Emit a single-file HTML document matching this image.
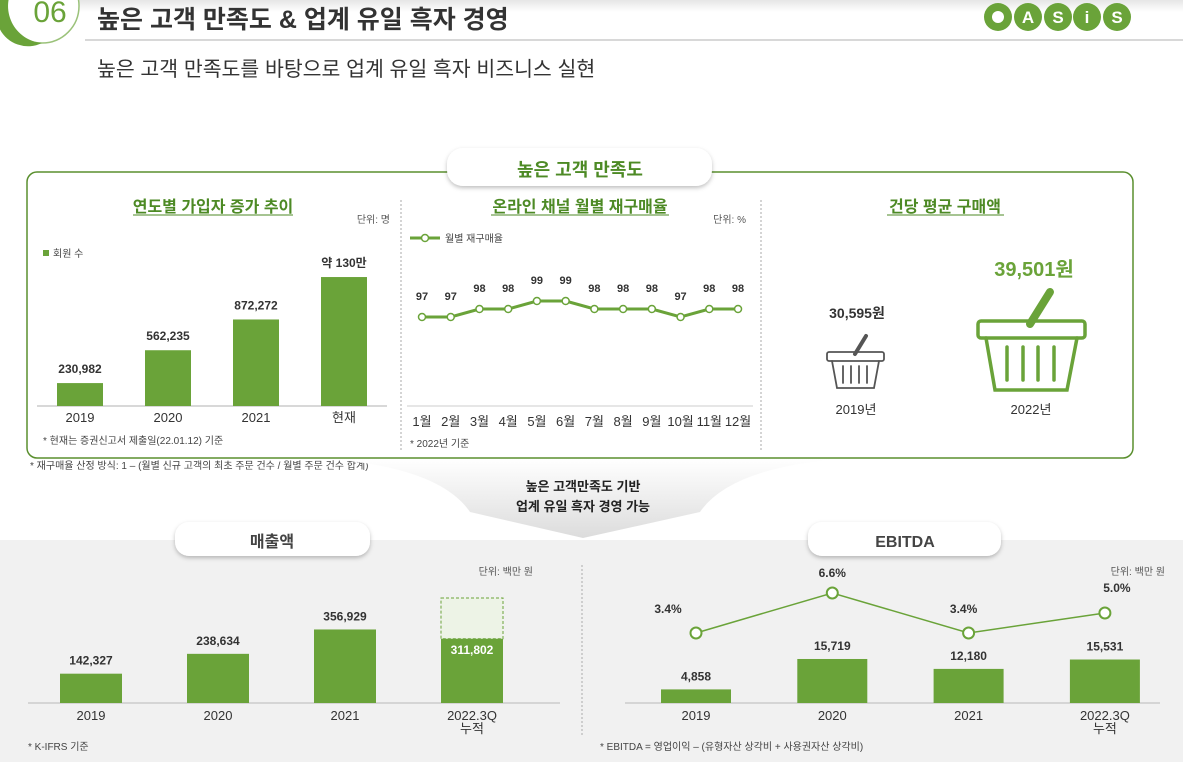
<!DOCTYPE html>
<html><head><meta charset="utf-8">
<style>
html,body{margin:0;padding:0;background:#fff;}
svg{display:block;font-family:"Liberation Sans","Noto Sans CJK KR",sans-serif;}
</style></head>
<body>
<svg id="s" width="1183" height="762" viewBox="0 0 1183 762" xmlns="http://www.w3.org/2000/svg">
<defs>
<linearGradient id="fg" x1="0" y1="0" x2="0" y2="1"><stop offset="0" stop-color="#ffffff"/><stop offset="1" stop-color="#dcdcdc"/></linearGradient>
<linearGradient id="hg" x1="0" y1="0" x2="0" y2="1"><stop offset="0" stop-color="#e6e6e6"/><stop offset="1" stop-color="#ffffff"/></linearGradient>
<filter id="sh" x="-10%" y="-30%" width="120%" height="170%"><feDropShadow dx="0" dy="2" stdDeviation="2" flood-color="#000" flood-opacity="0.25"/></filter>
</defs>
<rect x="0" y="0" width="1183" height="12" fill="url(#hg)"/>
<g>
<circle cx="42" cy="6" r="37" fill="#fff" stroke="#9bc27a" stroke-width="1.5"/>
<path d="M14,-14 A37,37 0 0 0 42,43 A30,30 0 0 1 14,-14Z" fill="#6aa339"/>
<text x="50" y="22" font-size="30" fill="#6aa339" text-anchor="middle">06</text>
</g>
<text x="97" y="28" font-size="25" font-weight="bold" fill="#333">높은 고객 만족도 &amp; 업계 유일 흑자 경영</text>
<line x1="85" y1="40" x2="1183" y2="40" stroke="#ccc" stroke-width="1.5"/>
<text x="97" y="76" font-size="20.5" fill="#333">높은 고객 만족도를 바탕으로 업계 유일 흑자 비즈니스 실현</text>
<g font-weight="bold" font-size="17" fill="#fff" text-anchor="middle">
<circle cx="998" cy="17" r="14" fill="#6aa339"/><circle cx="998" cy="17" r="6" fill="#fff"/>
<circle cx="1028" cy="17" r="14" fill="#6aa339"/><text x="1028" y="23">A</text>
<circle cx="1058" cy="17" r="14" fill="#6aa339"/><text x="1058" y="23">S</text>
<circle cx="1087" cy="17" r="14" fill="#6aa339"/><text x="1087" y="23">i</text>
<circle cx="1117" cy="17" r="14" fill="#6aa339"/><text x="1117" y="23">S</text>
</g>
<rect x="27" y="172" width="1106" height="286" rx="10" fill="#fff" stroke="#5a8f2e" stroke-width="1.5"/>
<g>
<rect x="447" y="148" width="265" height="38" rx="16" fill="#fff" filter="url(#sh)"/>
<text x="580" y="176" font-size="18" font-weight="bold" fill="#4d8a25" text-anchor="middle">높은 고객 만족도</text>
</g>
<line x1="401" y1="200" x2="401" y2="450" stroke="#aaa" stroke-dasharray="2,2"/>
<line x1="761" y1="200" x2="761" y2="450" stroke="#aaa" stroke-dasharray="2,2"/>
<g font-size="16" font-weight="bold" fill="#4d8a25" text-anchor="middle">
<text x="213" y="212">연도별 가입자 증가 추이</text>
<text x="580" y="212">온라인 채널 월별 재구매율</text>
<text x="945" y="212">건당 평균 구매액</text>
</g>
<line x1="133" y1="215" x2="293" y2="215" stroke="#4d8a25"/><line x1="491" y1="215" x2="669" y2="215" stroke="#4d8a25"/><line x1="887" y1="215" x2="1004" y2="215" stroke="#4d8a25"/>
<text x="390" y="223" font-size="10" fill="#555" text-anchor="end">단위: 명</text>
<text x="746" y="223" font-size="10" fill="#555" text-anchor="end">단위: %</text>
<rect x="43" y="250" width="6" height="6" fill="#6aa339"/>
<text x="53" y="257" font-size="10" fill="#444">회원 수</text>
<line x1="37" y1="406" x2="387" y2="406" stroke="#ccc" stroke-width="1.5"/>
<text x="43" y="444" font-size="10" fill="#444">* 현재는 증권신고서 제출일(22.01.12) 기준</text>
<g id="members"></g>
<line x1="410" y1="238" x2="440" y2="238" stroke="#6aa339" stroke-width="3"/><circle cx="425" cy="238" r="3.5" fill="#fff" stroke="#6aa339" stroke-width="1.5"/>
<text x="445" y="242" font-size="10" fill="#444">월별 재구매율</text>
<line x1="407" y1="406" x2="753" y2="406" stroke="#ddd" stroke-width="1.5"/>
<text x="410" y="447" font-size="10" fill="#444">* 2022년 기준</text>
<g id="repurchase"></g>
<text x="857" y="318" font-size="14" font-weight="bold" fill="#333" text-anchor="middle">30,595원</text>
<g fill="none" stroke="#555" stroke-width="1.8" stroke-linecap="round">
<rect x="827" y="352" width="57" height="9" rx="2"/><path d="M832,361 L837,388 L874,388 L879,361"/><line x1="855" y1="354" x2="866" y2="336" stroke-width="4"/><line x1="843" y1="366" x2="843" y2="383"/><line x1="851" y1="366" x2="851" y2="383"/><line x1="859" y1="366" x2="859" y2="383"/><line x1="867" y1="366" x2="867" y2="383"/>
</g>
<text x="856" y="414" font-size="13" fill="#333" text-anchor="middle">2019년</text>
<text x="1034" y="276" font-size="20" font-weight="bold" fill="#6aa339" text-anchor="middle">39,501원</text>
<g fill="none" stroke="#6aa339" stroke-width="3.5" stroke-linecap="round">
<rect x="978" y="321" width="107" height="17" rx="3"/><path d="M986,338 L995,390 L1067,390 L1077,338"/><line x1="1030" y1="324" x2="1050" y2="292" stroke-width="8"/><line x1="1007" y1="347" x2="1007" y2="380"/><line x1="1023" y1="347" x2="1023" y2="380"/><line x1="1038" y1="347" x2="1038" y2="380"/><line x1="1054" y1="347" x2="1054" y2="380"/>
</g>
<text x="1031" y="414" font-size="13" fill="#333" text-anchor="middle">2022년</text>
<text x="30" y="469" font-size="10" fill="#444">* 재구매율 산정 방식: 1 – (월별 신규 고객의 최초 주문 건수 / 월별 주문 건수 합계)</text>
<rect x="0" y="540" width="1183" height="222" fill="#f1f1f1"/>
<path d="M330,459 Q440,468 470,512 L583,538 L700,512 Q730,468 840,459 Z" fill="url(#fg)"/>
<text x="583" y="491" font-size="13" font-weight="bold" fill="#222" text-anchor="middle">높은 고객만족도 기반</text>
<text x="583" y="511" font-size="13" font-weight="bold" fill="#222" text-anchor="middle">업계 유일 흑자 경영 가능</text>
<g><rect x="175" y="522" width="195" height="34" rx="14" fill="#fff" filter="url(#sh)"/><text x="272" y="547" font-size="16" font-weight="bold" fill="#444" text-anchor="middle">매출액</text></g>
<g><rect x="808" y="522" width="193" height="34" rx="14" fill="#fff" filter="url(#sh)"/><text x="905" y="547" font-size="16" font-weight="bold" fill="#444" text-anchor="middle">EBITDA</text></g>
<line x1="582" y1="565" x2="582" y2="735" stroke="#aaa" stroke-dasharray="2,2"/>
<text x="533" y="575" font-size="10" fill="#555" text-anchor="end">단위: 백만 원</text>
<text x="1165" y="575" font-size="10" fill="#555" text-anchor="end">단위: 백만 원</text>
<line x1="28" y1="703" x2="560" y2="703" stroke="#ccc" stroke-width="1.5"/>
<line x1="625" y1="703" x2="1160" y2="703" stroke="#ccc" stroke-width="1.5"/>
<text x="28" y="750" font-size="10" fill="#444">* K-IFRS 기준</text>
<text x="600" y="750" font-size="10" fill="#444">* EBITDA = 영업이익 – (유형자산 상각비 + 사용권자산 상각비)</text>
<g id="revenue"></g>
<g id="ebitda"></g>
</svg>
<script>
const memberCats=["2019","2020","2021","현재"];
const memberVals=[230982,562235,872272,1300000];
const memberLabels=["230,982","562,235","872,272","약 130만"];
const months=["1월","2월","3월","4월","5월","6월","7월","8월","9월","10월","11월","12월"];
const repurchase=[97,97,98,98,99,99,98,98,98,97,98,98];
const revCats=["2019","2020","2021","2022.3Q"];
const revVals=[142327,238634,356929,311802];
const revProjected=[0,0,0,510000];
const ebitdaCats=["2019","2020","2021","2022.3Q"];
const ebitdaVals=[4858,15719,12180,15531];
const ebitdaMargin=[3.4,6.6,3.4,5.0];
const NS="http://www.w3.org/2000/svg";
function mk(p,t,a,txt){const e=document.createElementNS(NS,t);for(const k in a)e.setAttribute(k,a[k]);if(txt!=null)e.textContent=txt;p.appendChild(e);return e;}
const G="#6aa339";
function fmt(v){return v.toLocaleString("en-US");}
(function(){const g=document.getElementById("members");const y=v=>406-v*0.0000992;const x=i=>80+i*88;
memberVals.forEach((v,i)=>{const r=mk(g,"rect",{x:x(i)-23,y:y(v),width:46,height:406-y(v),fill:G});


const t=mk(g,"text",{x:x(i),y:y(v)-10,"font-size":12,"font-weight":"bold",fill:"#333","text-anchor":"middle"},memberLabels[i]);


const c=mk(g,"text",{x:x(i),y:422,"font-size":13,fill:"#333","text-anchor":"middle"},memberCats[i]);

});})();
(function(){const g=document.getElementById("repurchase");const x=i=>422+i*28.73;const y=v=>317-(v-97)*8;
const pts=repurchase.map((v,i)=>x(i)+","+y(v)).join(" ");
const l=mk(g,"polyline",{points:pts,fill:"none",stroke:G,"stroke-width":3});


repurchase.forEach((v,i)=>{const c=mk(g,"circle",{cx:x(i),cy:y(v),r:3.5,fill:"#fff",stroke:G,"stroke-width":1.5});


const t=mk(g,"text",{x:x(i),y:y(v)-17,"font-size":11,"font-weight":"bold",fill:"#333","text-anchor":"middle"},v);


const m=mk(g,"text",{x:x(i),y:426,"font-size":13,fill:"#333","text-anchor":"middle"},months[i]);

});})();
(function(){const g=document.getElementById("revenue");const y=v=>703-v*0.000206;const x=i=>91+i*127;
revVals.forEach((v,i)=>{
if(revProjected[i]>0){const p=mk(g,"rect",{x:x(i)-31,y:y(revProjected[i]),width:62,height:y(v)-y(revProjected[i]),fill:"#edf3e6",stroke:G,"stroke-dasharray":"3,2"});

}
const r=mk(g,"rect",{x:x(i)-31,y:y(v),width:62,height:703-y(v),fill:G});


const inside=revProjected[i]>0;
const t=mk(g,"text",{x:x(i),y:inside?y(v)+15:y(v)-9,"font-size":12,"font-weight":"bold",fill:inside?"#fff":"#333","text-anchor":"middle"},fmt(v));


const c=mk(g,"text",{x:x(i),y:720,"font-size":13,fill:"#333","text-anchor":"middle"},revCats[i]);


if(i===3){const n=mk(g,"text",{x:x(i),y:733,"font-size":13,fill:"#333","text-anchor":"middle"},"누적");

}});})();
(function(){const g=document.getElementById("ebitda");const y=v=>703-v*0.0028;const x=i=>696+i*136.3;const ym=v=>633-(v-3.4)*12.5;
const lo=[[-28,-20],[0,-16],[-5,-20],[12,-21]];
ebitdaVals.forEach((v,i)=>{const r=mk(g,"rect",{x:x(i)-35,y:y(v),width:70,height:703-y(v),fill:G});


const t=mk(g,"text",{x:x(i),y:y(v)-9,"font-size":12,"font-weight":"bold",fill:"#333","text-anchor":"middle"},fmt(v));


const c=mk(g,"text",{x:x(i),y:720,"font-size":13,fill:"#333","text-anchor":"middle"},ebitdaCats[i]);


if(i===3){const n=mk(g,"text",{x:x(i),y:733,"font-size":13,fill:"#333","text-anchor":"middle"},"누적");

}});
const l=mk(g,"polyline",{points:ebitdaMargin.map((v,i)=>x(i)+","+ym(v)).join(" "),fill:"none",stroke:G,"stroke-width":1.5});


ebitdaMargin.forEach((v,i)=>{const c=mk(g,"circle",{cx:x(i),cy:ym(v),r:5.5,fill:"#fff",stroke:G,"stroke-width":2});


const t=mk(g,"text",{x:x(i)+lo[i][0],y:ym(v)+lo[i][1],"font-size":12,"font-weight":"bold",fill:"#333","text-anchor":"middle"},v.toFixed(1)+"%");

});})();
</script>
</body></html>
